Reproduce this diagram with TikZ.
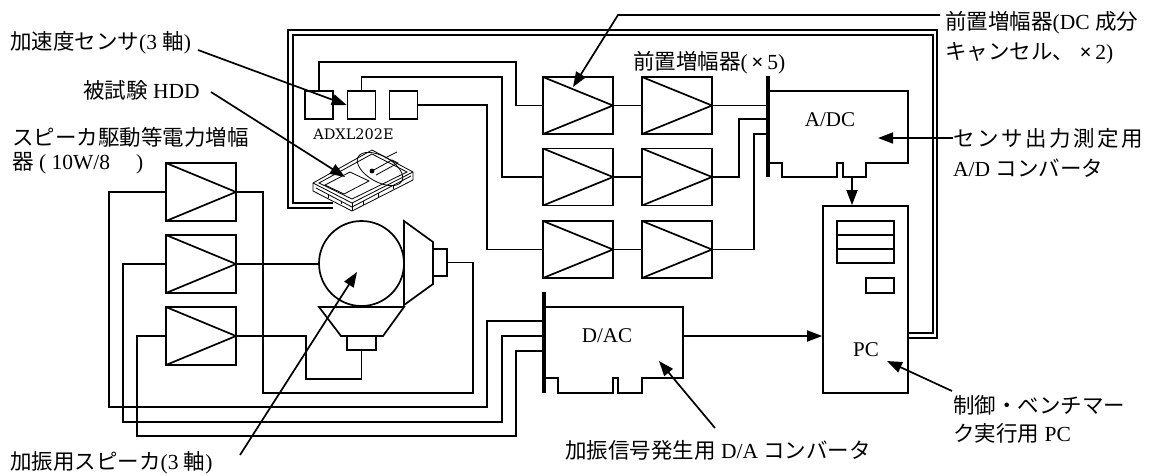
\documentclass[tikz,border=0pt]{standalone}
\usepackage{fontspec}
\setmainfont{Liberation Serif}
\newfontfamily\jp{Noto Sans CJK JP}
\newfontfamily\jpwide{Noto Sans CJK JP}[LetterSpace=12]
\newfontfamily\chipfont{DejaVu Serif}
\usetikzlibrary{arrows.meta,calc}
\newcommand{\timessign}{{\bfseries ×}}

\begin{document}
\begin{tikzpicture}[x=1pt,y=-1pt,
  wire/.style={line width=1.7pt},
  busline/.style={line width=4.2pt},
  arr/.style={line width=1.7pt,-{Triangle[length=15pt,width=11pt]}},
  amp/.style={draw,line width=1.7pt,rectangle,minimum width=70pt,minimum height=57pt,inner sep=0pt,
    path picture={\draw[line width=1.7pt] (path picture bounding box.north west)
      -- (path picture bounding box.east) -- (path picture bounding box.south west);}},
  sbox/.style={draw,line width=1.7pt,minimum width=28pt,minimum height=28pt,inner sep=0pt},
  lbl/.style={anchor=west,inner sep=0pt,font=\fontsize{21.5}{26}\selectfont},
  cardtext/.style={inner sep=0pt,font=\fontsize{21}{24}\selectfont},
]
\useasboundingbox (0,0) rectangle (1151,475);

% ---------- double cable from the PC round to the drive ----------
\draw[wire] (908,333) -- (933,333) -- (933,35) -- (293,35) -- (293,203) -- (333,203);
\draw[wire] (908,338) -- (937,338) -- (937,30) -- (288,30) -- (288,208) -- (333,208);

% ---------- accelerometer ----------
\node[sbox] (s1) at (319,105) {};
\node[sbox] (s2) at (361.5,105) {};
\node[sbox] (s3) at (403.5,105) {};
\node[inner sep=0pt,font=\chipfont\fontsize{14.5}{16}\selectfont] (chip) at (353.5,134.5) {ADXL202E};

% ---------- pre-amplifiers ----------
\node[amp] (p11) at (578,105.5) {};
\node[amp] (p12) at (677,105.5) {};
\node[amp] (p21) at (578,177) {};
\node[amp] (p22) at (677,177) {};
\node[amp] (p31) at (578,249.5) {};
\node[amp] (p32) at (677,249.5) {};

\draw[wire] (s1.north) |- (516,62) |- (p11.west);
\draw[wire] (s2.north) |- (502,77) |- (p21.west);
\draw[wire] (s3.east) -| (487,249.5) -- (p31.west);
\draw[wire] (p11.east) -- (p12.west);
\draw[wire] (p21.east) -- (p22.west);
\draw[wire] (p31.east) -- (p32.west);

% ---------- A/D card ----------
\coordinate (adcbus) at (768,0);
\draw[busline] (768,76) -- (768,177);
\draw[wire] (768,91) -- (908,91) -- (908,163) -- (866,163) -- (866,177) -- (843,177)
  -- (843,163) -- (837,163) -- (837,177) -- (782,177) -- (782,163) -- (768,163);
\node[cardtext] (adc) at (830,120) {A/DC};
\draw[wire] (p12.east) -- (p12.east -| adcbus);
\draw[wire] (p22.east) -| (739,119) -- (768,119);
\draw[wire] (p32.east) -| (754,134) -- (768,134);

% ---------- PC ----------
\node[draw,line width=1.7pt,minimum width=85pt,minimum height=187pt,inner sep=0pt] (pc) at (865.5,299.5) {};
\draw[wire] (837,221) rectangle (894,263);
\draw[wire] (837,235) -- (894,235);
\draw[wire] (837,249) -- (894,249);
\draw[wire] (866,278) rectangle (894,293);
\node[inner sep=0pt,font=\fontsize{21}{24}\selectfont] (pctext) at (866,350) {PC};

\coordinate (adcout) at (852,177);
\draw[arr] (adcout) -- (adcout |- pc.north);

% ---------- D/A card ----------
\draw[busline] (544,292) -- (544,393);
\draw[wire] (544,307) -- (683,307) -- (683,378) -- (642,378) -- (642,393) -- (618,393)
  -- (618,378) -- (613,378) -- (613,393) -- (558,393) -- (558,378) -- (544,378);
\node[cardtext] (dac) at (607,336) {D/AC};
\coordinate (dacout) at (683,336);
\draw[arr] (dacout) -- (dacout -| pc.west);

% ---------- shaker speakers ----------
\node[circle,draw,line width=1.7pt,minimum size=85pt,inner sep=0pt] (spk) at (361.5,263.5) {};
\draw[wire] (404,221) -- (433,242) -- (433,284) -- (404,305) -- cycle;
\node[draw,line width=1.7pt,minimum width=14pt,minimum height=27pt,inner sep=0pt] (rbox) at (440,262.5) {};
\draw[wire] (319,307) -- (404,307) -- (383,336) -- (341,336) -- cycle;
\node[draw,line width=1.7pt,minimum width=29pt,minimum height=14pt,inner sep=0pt] (bbox) at (361.5,343) {};

% ---------- power amplifiers ----------
\node[amp,minimum height=58pt] (q1) at (201,192) {};
\node[amp,minimum height=58pt] (q2) at (201,264) {};
\node[amp,minimum height=58pt] (q3) at (201,336) {};

\draw[wire] (q1.east) -| (263,393) -| (473,262.5) -- (rbox.east);
\draw[wire] (q2.east) -- (q2.east -| spk.west);
\draw[wire] (q3.east) -| (306,379) -| (bbox.south);
\draw[wire] (q1.west) -| (109,407) -| (487,321) -- (544,321);
\draw[wire] (q2.west) -| (123,422) -| (502,336) -- (544,336);
\draw[wire] (q3.west) -| (137,436) -| (516,351) -- (544,351);

% ---------- hard disk drive ----------
\begin{scope}[line width=0.8pt]
  \filldraw[fill=white] (313,183) -- (372,150) -- (413,172) -- (413,180) -- (352,211) -- (313,191) -- cycle;
  \draw (313,183) -- (352,203) -- (413,172);
  \draw (352,203) -- (352,211);
  \draw (316,188) -- (352,207) -- (411,176);
  \draw (319,183) -- (372,154) -- (407,172) -- (352,199) -- cycle;
  \draw[rotate around={-29:(380,169)}] (380,169) ellipse (25 and 13);
  \draw (325,185) -- (350,172) -- (369,181) -- (344,194) -- cycle;
  \draw (372,171) -- (392,160) -- (398,163) -- (376,175);
  \draw (385,158) -- (397,152);
  \fill (372,171) circle (2.4);
  \foreach \t in {0.2,0.45,0.7}
    \draw ($(352,207)!\t!(411,176)$) -- ++(0,4);
  \foreach \t in {0.35,0.7}
    \draw ($(316,188)!\t!(352,207)$) -- ++(0,3);
\end{scope}

% ---------- labels and callouts ----------
\node[lbl] (lacc) at (10,43) {{\jp 加速度センサ}(3 {\jp 軸})};
\draw[arr] (198,50) -- (s2.west);

\node[lbl] (lhdd) at (83,90) {{\jp 被試験} HDD};
\draw[arr] (211,92) -- (345,177);

\node[lbl] (lpa1) at (12,137) {\jp スピーカ駆動等電力増幅};
\node[lbl] (lpa2) at (12,163) {{\jp 器} ( 10W/8\hspace{26pt})};

\node[lbl] (lspk) at (10,463) {{\jp 加振用スピーカ}(3 {\jp 軸})};
\draw[arr] (240,455) -- (357,272);

\node[lbl] (ldac) at (565,450) {{\jp 加振信号発生用} D/A {\jp コンバータ}};
\draw[arr] (715,428) -- (659,361);

\node[lbl] (lpc1) at (953,405) {\jp 制御・ベンチマー};
\node[lbl] (lpc2) at (953,433) {{\jp ク実行用} PC};
\draw[arr] (952,391) -- (887,361);

\node[lbl] (ladc1) at (953,138) {\jpwide センサ出力測定用};
\node[lbl] (ladc2) at (953,168) {A/D {\jp コンバータ}};
\draw[arr] (ladc1.west) -- (878,138);

\node[lbl] (lpre1) at (945,23) {{\jp 前置増幅器}(DC {\jp 成分}};
\node[lbl] (lpre2) at (945,53) {{\jp キャンセル、} \timessign\,2)};
\coordinate (bend) at (618,15);
\draw[arr] (940,15) -- (bend) -- (573,87);

\node[lbl] (lpre5) at (633,63) {{\jp 前置増幅器}(\,\timessign\,5)};
\end{tikzpicture}
\end{document}
